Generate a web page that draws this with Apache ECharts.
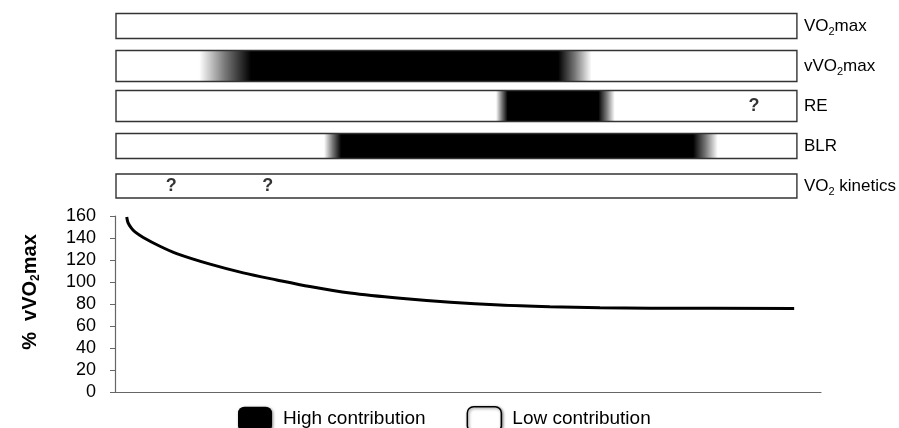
<!DOCTYPE html>
<html lang="en">

<head>
	<meta charset="UTF-8">
	<title>Contribution of factors to % vVO2max</title>
	<style>
		html, body { margin: 0; padding: 0; background: #fff; }
	</style>
</head>

<body>
	<div id="main" style="width: 899px;height:428px;"></div>
	<script src="https://cdn.jsdelivr.net/npm/echarts@6/dist/echarts.min.js"></script>
	<script>
		// rows of the contribution bars (top panel)
		var rows = ['VO2max', 'vVO2max', 'RE', 'BLR', 'VO2 kinetics'];
		// where each row fades from white to black and back (0-100 along the bar)
		var rampUpStart = [null, 12.3, 55.8, 30.6, null];
		var rampUpEnd = [null, 19.9, 57.5, 33.1, null];
		var rampDownStart = [null, 64.9, 70.8, 84.7, null];
		var rampDownEnd = [null, 69.8, 73.2, 88.3, null];
		// question marks
		var unknownRow = ['VO2 kinetics', 'VO2 kinetics', 'RE'];
		var unknownX = [8.1, 22.3, 93.7];

		// curve (bottom panel)
		var curveX = [1.66, 1.84, 2.27, 2.83, 4.0, 6.37, 8.74, 13.46, 18.17, 22.9, 27.6, 33.3, 40.4, 47.5, 54.5, 61.6, 68.7, 75.8, 96.2];
		var curveY = [159, 154, 149.5, 145.5, 140.5, 132.5, 125.8, 116.2, 108.3, 101.9, 95.9, 90, 85.2, 81.6, 79.1, 77.6, 76.6, 76.2, 76];

		var rowHeights = [25, 31, 31, 25, 24];
		var font = 'Liberation Sans, Arial, sans-serif';

		var myChart = echarts.init(document.getElementById('main'));

		function subLabel(name) {
			// VO2 -> VO{s|2}
			return name.replace('VO2', 'VO}{s|2}{n|').replace(/^/, '{n|') + '}';
		}

		function renderRow(params, api) {
			var i = params.dataIndex;
			var p0 = api.coord([0, i]);
			var p1 = api.coord([100, i]);
			var w = p1[0] - p0[0];
			var h = rowHeights[i];
			var fill = '#fff';
			if (rampUpStart[i] != null) {
				var off = function (v) { return (api.coord([v, i])[0] - p0[0]) / w; };
				fill = new echarts.graphic.LinearGradient(0, 0, 1, 0, [
					{ offset: 0, color: '#fff' },
					{ offset: off(rampUpStart[i]), color: '#fff' },
					{ offset: (off(rampUpStart[i]) + off(rampUpEnd[i])) / 2, color: '#777' },
					{ offset: off(rampUpEnd[i]), color: '#000' },
					{ offset: off(rampDownStart[i]), color: '#000' },
					{ offset: (off(rampDownStart[i]) + off(rampDownEnd[i])) / 2, color: '#777' },
					{ offset: off(rampDownEnd[i]), color: '#fff' },
					{ offset: 1, color: '#fff' }
				]);
			}
			return {
				type: 'rect',
				shape: { x: p0[0], y: p0[1] - h / 2, width: w, height: h },
				style: { fill: fill, stroke: '#333', lineWidth: 1.4 }
			};
		}

		var option = {
			animation: false,
			textStyle: { fontFamily: font },
			grid: [
				{ left: 115, right: 78, top: 216, bottom: 36 },
				{ left: 116, right: 101, top: 6, height: 200 }
			],
			xAxis: [{
				type: 'value', min: 0, max: 100, gridIndex: 0,
				axisLine: { lineStyle: { color: '#666', width: 1.2 } },
				axisTick: { show: false }, axisLabel: { show: false }, splitLine: { show: false }
			}, {
				type: 'value', min: 0, max: 100, gridIndex: 1, show: false
			}],
			yAxis: [{
				type: 'value', min: 0, max: 160, interval: 20, gridIndex: 0,
				axisLine: { show: true, lineStyle: { color: '#666', width: 1.2 } },
				axisTick: { show: true, length: 5, lineStyle: { color: '#666' } },
				axisLabel: { color: '#000', fontSize: 18, margin: 19, fontFamily: font },
				splitLine: { show: false }
			}, {
				type: 'category', data: rows, inverse: true, gridIndex: 1, position: 'right',
				axisLine: { show: false }, axisTick: { show: false }, splitLine: { show: false },
				axisLabel: {
					margin: 7, align: 'left',
					formatter: subLabel,
					rich: {
						n: { fontSize: 17, color: '#000', fontFamily: font, lineHeight: 22 },
						s: { fontSize: 11, color: '#000', fontFamily: font, lineHeight: 11, verticalAlign: 'bottom' }
					}
				}
			}],
			legend: {
				left: 233, top: 401, itemWidth: 34, itemHeight: 25, itemGap: 41,
				textStyle: { fontSize: 19, color: '#000', fontFamily: font, padding: [0, 0, 0, 6] },
				data: [
					{ name: 'High contribution', icon: 'roundRect', itemStyle: { color: '#000', shadowBlur: 3, shadowColor: 'rgba(0,0,0,0.5)', shadowOffsetX: 1, shadowOffsetY: 1 } },
					{ name: 'Low contribution', icon: 'roundRect', itemStyle: { color: '#fff', borderColor: '#000', borderWidth: 1.5, shadowBlur: 3, shadowColor: 'rgba(0,0,0,0.5)', shadowOffsetX: 1, shadowOffsetY: 1 } }
				]
			},
			graphic: [{
				type: 'text', x: 30, y: 292, rotation: Math.PI / 2,
				style: {
					text: '{b|%  vVO}{s|2}{b|max}',
					align: 'center', verticalAlign: 'middle',
					rich: {
						b: { fontSize: 20, fontWeight: 'bold', fill: '#000', fontFamily: font, lineHeight: 24 },
						s: { fontSize: 12, fontWeight: 'bold', fill: '#000', fontFamily: font, lineHeight: 12, verticalAlign: 'bottom' }
					}
				}
			}],
			series: [{
				type: 'custom', xAxisIndex: 1, yAxisIndex: 1,
				renderItem: renderRow,
				data: rows.map(function (r) { return [0, r]; }),
				silent: true
			}, {
				type: 'scatter', xAxisIndex: 1, yAxisIndex: 1,
				symbolSize: 1, itemStyle: { color: 'rgba(0,0,0,0)' },
				label: { show: true, position: 'inside', formatter: '?', fontSize: 18, fontWeight: 'bold', color: '#000', fontFamily: font },
				data: unknownX.map(function (x, k) { return [x, unknownRow[k]]; })
			}, {
				type: 'line', xAxisIndex: 0, yAxisIndex: 0,
				smooth: 0.3, showSymbol: false,
				lineStyle: { color: '#000', width: 3 },
				data: curveX.map(function (x, k) { return [x, curveY[k]]; })
			}, {
				name: 'High contribution', type: 'bar', xAxisIndex: 0, yAxisIndex: 0, data: [],
				itemStyle: { color: '#000' }
			}, {
				name: 'Low contribution', type: 'bar', xAxisIndex: 0, yAxisIndex: 0, data: [],
				itemStyle: { color: '#fff' }
			}]
		};

		myChart.setOption(option);
	</script>
</body>

</html>
